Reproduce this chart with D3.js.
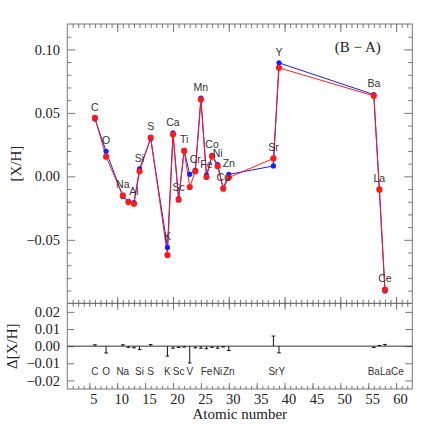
<!DOCTYPE html>
<html>
<head>
<meta charset="utf-8">
<script src="https://cdn.jsdelivr.net/npm/d3@7"></script>
<style>
  body { margin: 0; background: #fff; }
  text { font-family: "Liberation Serif", "DejaVu Serif", serif; fill: #222; }
  .el { font-family: "Liberation Sans", Arial, sans-serif; fill: #333; }
</style>
</head>
<body>
<div id="main"></div>
<script>
// element names and atomic numbers
var elements = ["C", "O", "Na", "Mg", "Al", "Si", "S", "K", "Ca", "Sc", "Ti", "V", "Cr",
  "Mn", "Fe", "Co", "Ni", "Cu", "Zn", "Sr", "Y", "Ba", "La", "Ce"];
var atomicNumbers = [6, 8, 11, 12, 13, 14, 16, 19, 20, 21, 22, 23, 24, 25, 26, 27, 28, 29, 30, 38, 39, 56, 57, 58];
// [X/H] (B - A), two solutions
var blueValues = [0.0452, 0.0197, -0.0158, -0.0196, -0.0206, 0.0060, 0.0296, -0.0560, 0.0342, -0.0176,
  0.0205, 0.0016, 0.0050, 0.0617, 0.0010, 0.0165, 0.0092, -0.0092, 0.0015, 0.0082, 0.0894, 0.0644, -0.0107, -0.0903];
var redValues = [0.0460, 0.0155, -0.0150, -0.0203, -0.0216, 0.0040, 0.0305, -0.0620, 0.0330, -0.0184,
  0.0200, -0.0084, 0.0040, 0.0605, -0.0005, 0.0158, 0.0080, -0.0097, -0.0010, 0.0141, 0.0855, 0.0634, -0.0103, -0.0893];
// residuals for the lower panel
var deltaValues = [0.0008, -0.0040, 0.0008, -0.0007, -0.0010, -0.0020, 0.0009, -0.0058, -0.0012, -0.0008,
  -0.0005, -0.0098, -0.0010, -0.0012, -0.0015, -0.0007, -0.0012, -0.0005, -0.0025, 0.0059, -0.0039, -0.0008, 0.0004, 0.0010];
// labels shown in each panel
var topLabels = ["C", "O", "Na", "Al", "Si", "S", "K", "Ca", "Sc", "Ti", "Cr", "Mn", "Fe", "Co", "Ni", "Cu", "Zn", "Sr", "Y", "Ba", "La", "Ce"];
var bottomLabels = ["C", "O", "Na", "Si", "S", "K", "Sc", "V", "Fe", "Ni", "Zn", "Sr", "Y", "Ba", "La", "Ce"];
var xTicks = [5, 10, 15, 20, 25, 30, 35, 40, 45, 50, 55, 60];
var yTopTicks = [-0.05, 0, 0.05, 0.10];
var yBotTicks = [-0.02, -0.01, 0, 0.01, 0.02];

var rows = elements.map((el, i) => ({
  el: el, z: atomicNumbers[i], blue: blueValues[i], red: redValues[i], delta: deltaValues[i]
}));

var margin = { top: 24, left: 67.3 },
  width = 345,
  topHeight = 279.3,
  botHeight = 85.7;

var serif = '"Liberation Serif", "DejaVu Serif", serif';

var svg = d3.select('#main')
  .append("svg")
  .attr('width', 436)
  .attr('height', 436)
  .append("g")
  .attr("transform", "translate(" + margin.left + "," + margin.top + ")");

var x = d3.scaleLinear().domain([1.05, 62.9]).range([0, width]);
var yTop = d3.scaleLinear().domain([-0.10, 0.12]).range([topHeight, 0]);
var yBot = d3.scaleLinear().domain([-0.025, 0.025]).range([topHeight + botHeight, topHeight]);

var frameColor = '#777';
var fmt = d3.format(".2f");

function styleAxis(g) {
  g.attr("font-family", null).attr("font-size", null);
  g.select(".domain").remove();
  g.selectAll("line").attr("stroke", frameColor);
  g.selectAll("text")
    .attr("fill", "#222")
    .style("font-family", serif)
    .style("font-size", "14.5px");
}

// minor ticks, every unit on x
var minorX = d3.range(2, 63);
var tens = [10, 20, 30, 40, 50, 60];

// top axis of upper panel
svg.append("g").call(d3.axisTop(x).tickValues(minorX).tickSize(-4).tickFormat("")).call(styleAxis);
svg.append("g").call(d3.axisTop(x).tickValues(tens).tickSize(-8).tickFormat("")).call(styleAxis);

// divider ticks (both sides)
[3.5, -3.5].forEach(s => {
  svg.append("g").attr("transform", "translate(0," + topHeight + ")")
    .call(d3.axisBottom(x).tickValues(minorX).tickSize(s).tickFormat("")).call(styleAxis);
});
[6.5, -6.5].forEach(s => {
  svg.append("g").attr("transform", "translate(0," + topHeight + ")")
    .call(d3.axisBottom(x).tickValues(tens).tickSize(s).tickFormat("")).call(styleAxis);
});

// bottom axis
svg.append("g").attr("transform", "translate(0," + (topHeight + botHeight) + ")")
  .call(d3.axisBottom(x).tickValues(minorX).tickSize(-3).tickFormat("")).call(styleAxis);
svg.append("g").attr("transform", "translate(0," + (topHeight + botHeight) + ")")
  .call(d3.axisBottom(x).tickValues(xTicks).tickSize(-6).tickPadding(5).tickFormat(d3.format("d")))
  .call(styleAxis)
  .selectAll("text")
  .attr("dx", 4);

// upper left / right axes
var minorY = d3.range(-9, 12).map(d => d / 100).filter(d => Math.abs(d * 20 - Math.round(d * 20)) > 1e-6);
svg.append("g").call(d3.axisLeft(yTop).tickValues(minorY).tickSize(-4).tickFormat("")).call(styleAxis);
svg.append("g").call(d3.axisLeft(yTop).tickValues(yTopTicks).tickSize(-8).tickPadding(7.3).tickFormat(fmt))
  .call(styleAxis);
svg.append("g").attr("transform", "translate(" + width + ",0)")
  .call(d3.axisRight(yTop).tickValues(minorY).tickSize(-4).tickFormat("")).call(styleAxis);
svg.append("g").attr("transform", "translate(" + width + ",0)")
  .call(d3.axisRight(yTop).tickValues(yTopTicks).tickSize(-8).tickFormat("")).call(styleAxis);

// lower left / right axes
svg.append("g").call(d3.axisLeft(yBot).tickValues(yBotTicks).tickSize(-7).tickPadding(7.3).tickFormat(fmt))
  .call(styleAxis);
svg.append("g").attr("transform", "translate(" + width + ",0)")
  .call(d3.axisRight(yBot).tickValues(yBotTicks).tickSize(-7).tickFormat("")).call(styleAxis);

// frame
svg.append("rect")
  .attr("width", width)
  .attr("height", topHeight + botHeight)
  .attr("fill", "none")
  .attr("stroke", frameColor);
svg.append("line")
  .attr("x1", 0).attr("x2", width)
  .attr("y1", topHeight).attr("y2", topHeight)
  .attr("stroke", "#555");

// zero line in lower panel
svg.append("line")
  .attr("x1", 0).attr("x2", width)
  .attr("y1", yBot(0)).attr("y2", yBot(0))
  .attr("stroke", "#333");

// series
var series = [
  { key: 'blue', color: '#1a1aff', r: 2.6 },
  { key: 'red', color: '#ff1a1a', r: 3.1 }
];

series.forEach(s => {
  var line = d3.line().x(d => x(d.z)).y(d => yTop(d[s.key]));
  svg.append("path")
    .datum(rows)
    .attr("d", line)
    .attr("fill", "none")
    .attr("stroke", s.color)
    .attr("stroke-width", 1);
});
series.forEach(s => {
  svg.selectAll(".dot-" + s.key)
    .data(rows)
    .enter()
    .append("circle")
    .attr("class", "dot-" + s.key)
    .attr("cx", d => x(d.z))
    .attr("cy", d => yTop(d[s.key]))
    .attr("r", s.r)
    .attr("fill", s.color);
});

// element labels in upper panel
svg.selectAll(".toplab")
  .data(rows.filter(d => topLabels.includes(d.el)))
  .enter()
  .append("text")
  .attr("class", "el toplab")
  .attr("x", d => x(d.z))
  .attr("y", d => yTop(Math.max(d.blue, d.red)) - 11)
  .attr("dy", "0.36em")
  .attr("text-anchor", "middle")
  .style("font-size", "10.5px")
  .text(d => d.el);

// residual bars
var bars = svg.selectAll(".res")
  .data(rows)
  .enter()
  .append("g")
  .attr("class", "res");
bars.append("line")
  .attr("x1", d => x(d.z)).attr("x2", d => x(d.z))
  .attr("y1", yBot(0)).attr("y2", d => yBot(d.delta))
  .attr("stroke", "#111");
bars.append("line")
  .attr("x1", d => x(d.z) - 1.8).attr("x2", d => x(d.z) + 1.8)
  .attr("y1", d => yBot(d.delta)).attr("y2", d => yBot(d.delta))
  .attr("stroke", "#111");

// element labels in lower panel, pushed right when they would overlap
var lastRight = -Infinity;
rows.filter(d => bottomLabels.includes(d.el)).forEach(d => {
  var t = svg.append("text")
    .attr("class", "el")
    .attr("y", yBot(-0.0149))
    .attr("dy", "0.36em")
    .style("font-size", "10px")
    .text(d.el);
  var w = t.node().getComputedTextLength();
  var left = Math.max(x(d.z) - w / 2, lastRight);
  t.attr("x", left);
  lastRight = left + w;
});

// titles
svg.append("text")
  .attr("x", 290.5)
  .attr("y", 22.7)
  .attr("dy", "0.35em")
  .attr("text-anchor", "middle")
  .style("font-size", "15px")
  .text("(B \u2212 A)");

svg.append("text")
  .attr("transform", "translate(" + (16 - margin.left) + "," + (topHeight / 2) + ")rotate(-90)")
  .attr("dy", "0.35em")
  .attr("text-anchor", "middle")
  .style("font-size", "15px")
  .text("[X/H]");

svg.append("text")
  .attr("transform", "translate(" + (12 - margin.left) + "," + (topHeight + botHeight / 2) + ")rotate(-90)")
  .attr("dy", "0.35em")
  .attr("text-anchor", "middle")
  .style("font-size", "15px")
  .text("\u0394[X/H]");

svg.append("text")
  .attr("x", width / 2)
  .attr("y", 419 - margin.top)
  .attr("text-anchor", "middle")
  .style("font-size", "15px")
  .text("Atomic number");
</script>
</body>
</html>
